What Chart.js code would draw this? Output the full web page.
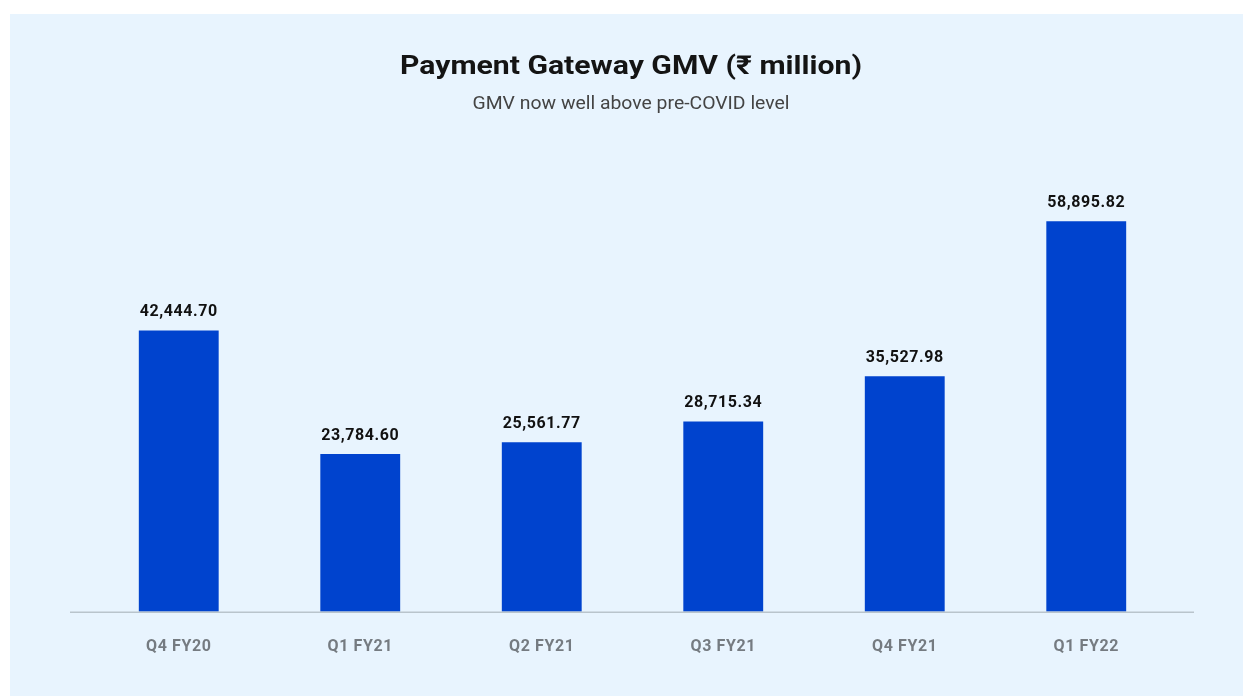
<!DOCTYPE html>
<html>
<head>
<meta charset="utf-8">
<script src="https://cdn.jsdelivr.net/npm/chart.js@4.4.1/dist/chart.umd.min.js"></script>
<style>
  html, body { margin: 0; padding: 0; background: #ffffff; }
  #wrap { position: relative; width: 1243px; height: 696px; }
</style>
</head>
<body>
<div id="wrap"><canvas id="c" width="1243" height="696"></canvas></div>
<script>
const categories = ["Q4 FY20", "Q1 FY21", "Q2 FY21", "Q3 FY21", "Q4 FY21", "Q1 FY22"];
const gmvValues = [42444.70, 23784.60, 25561.77, 28715.34, 35527.98, 58895.82];
const chartTitle = "Payment Gateway GMV (₹ million)";
const chartSubtitle = "GMV now well above pre-COVID level";

const FONT = "Roboto, 'Noto Sans', 'DejaVu Sans', sans-serif";

function fitText(ctx, text, cx, y, width) {
  const w = ctx.measureText(text).width;
  const sx = width / w;
  ctx.save();
  ctx.translate(cx, y);
  ctx.scale(sx, 1);
  ctx.fillText(text, 0, 0);
  ctx.restore();
}

const decor = {
  id: 'decor',
  beforeDraw(chart) {
    const ctx = chart.ctx;
    ctx.save();
    ctx.fillStyle = '#ffffff';
    ctx.fillRect(0, 0, chart.width, chart.height);
    ctx.fillStyle = '#e8f4fe';
    ctx.fillRect(10, 14, chart.width - 10, chart.height - 14);
    ctx.textAlign = 'center';
    ctx.textBaseline = 'alphabetic';
    ctx.fillStyle = '#141414';
    ctx.font = "bold 26px " + FONT;
    fitText(ctx, chartTitle, 631, 74, 462);
    ctx.fillStyle = '#444444';
    ctx.font = "18px " + FONT;
    fitText(ctx, chartSubtitle, 631, 109, 317);
    ctx.restore();
    ctx.letterSpacing = '0.6px';
  },
  afterDatasetsDraw(chart) {
    const ctx = chart.ctx;
    const y = chart.scales.y.getPixelForValue(0);
    ctx.save();
    ctx.strokeStyle = '#b9c4cc';
    ctx.lineWidth = 1.5;
    ctx.beginPath();
    ctx.moveTo(70, y + 0.5);
    ctx.lineTo(1194, y + 0.5);
    ctx.stroke();
    const meta = chart.getDatasetMeta(0);
    ctx.fillStyle = '#111111';
    ctx.font = "bold 16px " + FONT;
    ctx.letterSpacing = '0.6px';
    ctx.textAlign = 'center';
    ctx.textBaseline = 'alphabetic';
    meta.data.forEach((bar, i) => {
      const v = chart.data.datasets[0].data[i];
      const txt = v.toLocaleString('en-US', {minimumFractionDigits: 2, maximumFractionDigits: 2});
      ctx.fillText(txt, bar.x, bar.y - 14);
    });
    ctx.restore();
  }
};

new Chart(document.getElementById('c'), {
  type: 'bar',
  data: {
    labels: categories,
    datasets: [{
      data: gmvValues,
      backgroundColor: '#0043ce',
      borderWidth: 0,
      barPercentage: 0.44,
      categoryPercentage: 1.0
    }]
  },
  options: {
    responsive: false,
    animation: false,
    events: [],
    layout: { padding: { left: 88, right: 66, top: 214, bottom: 13 } },
    plugins: { legend: { display: false }, title: { display: false }, tooltip: { enabled: false } },
    scales: {
      x: {
        grid: { display: false, drawTicks: false },
        border: { display: false },
        ticks: {
          color: '#757b81',
          font: { family: FONT, size: 16, weight: 'bold' },
          padding: 26
        }
      },
      y: {
        display: false,
        min: 0,
        max: 60000
      }
    }
  },
  plugins: [decor]
});
</script>
</body>
</html>
